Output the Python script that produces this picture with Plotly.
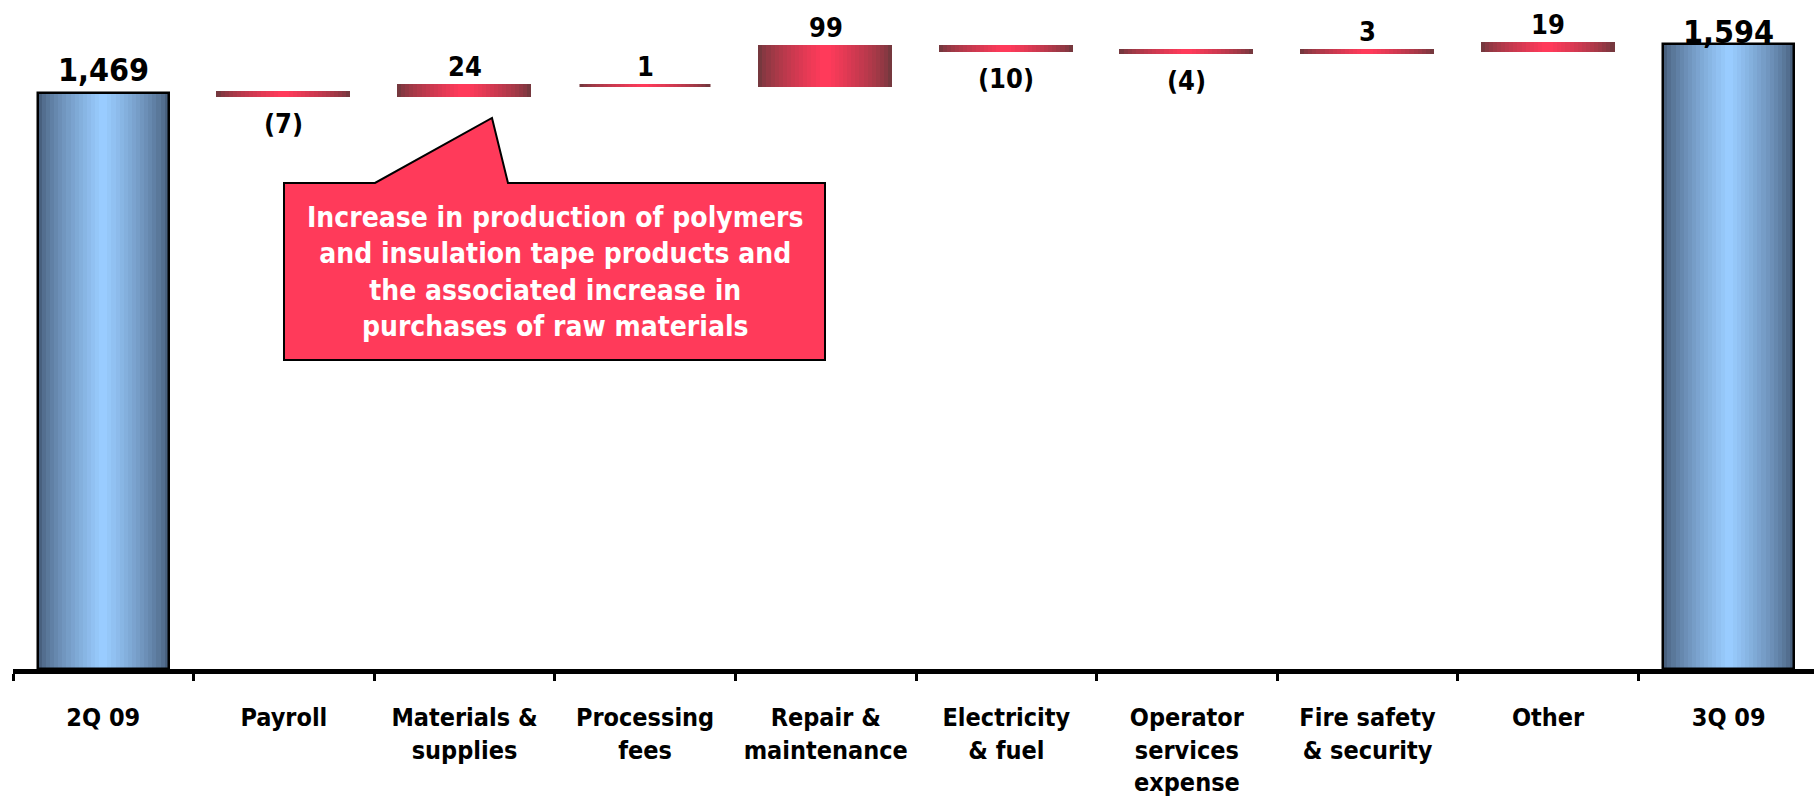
import plotly.graph_objects as go

# Cost bridge, 2Q 09 -> 3Q 09
categories = [
    "2Q 09", "Payroll", "Materials &<br>supplies", "Processing<br>fees",
    "Repair &<br>maintenance", "Electricity<br>& fuel", "Operator<br>services<br>expense",
    "Fire safety<br>& security", "Other", "3Q 09",
]
start_value = 1469
end_value = 1594
changes = [-7, 24, 1, 99, -10, -4, 3, 19]
callout_text = ("Increase in production of polymers<br>and insulation tape products and<br>"
                "the associated increase in<br>purchases of raw materials")

FONT = "DejaVu Sans Condensed, Open Sans, sans-serif"

W, H = 1814, 799
ML, MB = 13, 130
PLOT_W, PLOT_H = W - ML, H - MB
CAT_PX = 180.6
Y_MAX = 1706
BAR_W = 0.725

# running totals for the floating bars
bases = []
running = start_value
for d in changes:
    bases.append(running)
    running += d
change_cats = categories[1:-1]
total_cats = [categories[0], categories[-1]]
totals = [start_value, end_value]
total_label_shift = [2, -9]


def mix(c1, c2, t):
    return "rgb(%d,%d,%d)" % tuple(round(a + (b - a) * t) for a, b in zip(c1, c2))


RED_EDGE, RED_MID = (118, 56, 62), (255, 58, 90)
BLUE_EDGE, BLUE_MID = (72, 96, 126), (153, 204, 255)
N_LAYERS = 16

fig = go.Figure()

# horizontal shading: nested bars, widest/darkest first
for i in range(N_LAYERS):
    frac = 1 - i / N_LAYERS
    t = (i / (N_LAYERS - 1)) ** 0.75
    w = BAR_W * frac
    cb = mix(BLUE_EDGE, BLUE_MID, t)
    fig.add_trace(go.Bar(
        x=total_cats, y=totals, width=w,
        marker=dict(color=cb, line=dict(width=0)),
        hoverinfo="skip", showlegend=False,
    ))
    cr = mix(RED_EDGE, RED_MID, t)
    fig.add_trace(go.Bar(
        x=change_cats, y=changes, base=bases, width=w,
        marker=dict(color=cr, line=dict(width=3, color=cr)),
        hoverinfo="skip", showlegend=False,
    ))

# outline of the total bars
fig.add_trace(go.Bar(
    x=total_cats, y=totals, width=BAR_W,
    marker=dict(color="rgba(0,0,0,0)", line=dict(width=2.5, color="black")),
    hoverinfo="skip", showlegend=False,
))


def fmt(v):
    return f"({abs(v):,})" if v < 0 else f"{v:,}"


annotations = []
for c, v, s in zip(total_cats, totals, total_label_shift):
    annotations.append(dict(
        x=c, y=v, xref="x", yref="y", text=f"<b>{fmt(v)}</b>", showarrow=False,
        yanchor="bottom", yshift=s, font=dict(family=FONT, size=32, color="black"),
    ))
for c, b, d in zip(change_cats, bases, changes):
    if d >= 0:
        annotations.append(dict(
            x=c, y=b + d, xref="x", yref="y", text=f"<b>{fmt(d)}</b>", showarrow=False,
            yanchor="bottom", yshift=2, font=dict(family=FONT, size=27, color="black"),
        ))
    else:
        annotations.append(dict(
            x=c, y=b + d, xref="x", yref="y", text=f"<b>{fmt(d)}</b>", showarrow=False,
            yanchor="top", yshift=-10, font=dict(family=FONT, size=27, color="black"),
        ))


def px_x(x):
    return (x - ML) / PLOT_W


def px_y(y):
    return (PLOT_H - y) / PLOT_H


# callout box with pointer towards the materials bar
pts = [(284, 183), (375, 183), (492, 118), (508, 183), (825, 183), (825, 360), (284, 360)]
path = "M " + " L ".join(f"{px_x(x):.5f},{px_y(y):.5f}" for x, y in pts) + " Z"
shapes = [dict(type="path", xref="paper", yref="paper", path=path,
               fillcolor="rgb(255,58,90)", line=dict(color="black", width=2), layer="above")]

annotations.append(dict(
    x=px_x(554.5), y=px_y(272), xref="paper", yref="paper", text=callout_text,
    showarrow=False, xanchor="center", yanchor="middle", align="center",
    font=dict(family=FONT, size=28, color="white", weight="bold"),
))

fig.update_layout(
    width=W, height=H,
    margin=dict(l=ML, r=0, t=0, b=MB, pad=0),
    paper_bgcolor="white", plot_bgcolor="white",
    barmode="overlay", bargap=0,
    showlegend=False,
    shapes=shapes, annotations=annotations,
    xaxis=dict(
        type="category", categoryorder="array", categoryarray=categories,
        range=[-0.5, -0.5 + PLOT_W / CAT_PX],
        tickson="boundaries", ticks="outside", ticklen=7, tickwidth=3, tickcolor="black",
        showline=True, linewidth=5, linecolor="black", showgrid=False, zeroline=False,
        tickfont=dict(family=FONT, size=25, color="black", weight="bold"),
        ticklabelstandoff=22,
        fixedrange=True,
    ),
    yaxis=dict(range=[0, Y_MAX], visible=False, showgrid=False, zeroline=False, fixedrange=True),
)

fig.write_html("out.html", config={"displayModeBar": False})
